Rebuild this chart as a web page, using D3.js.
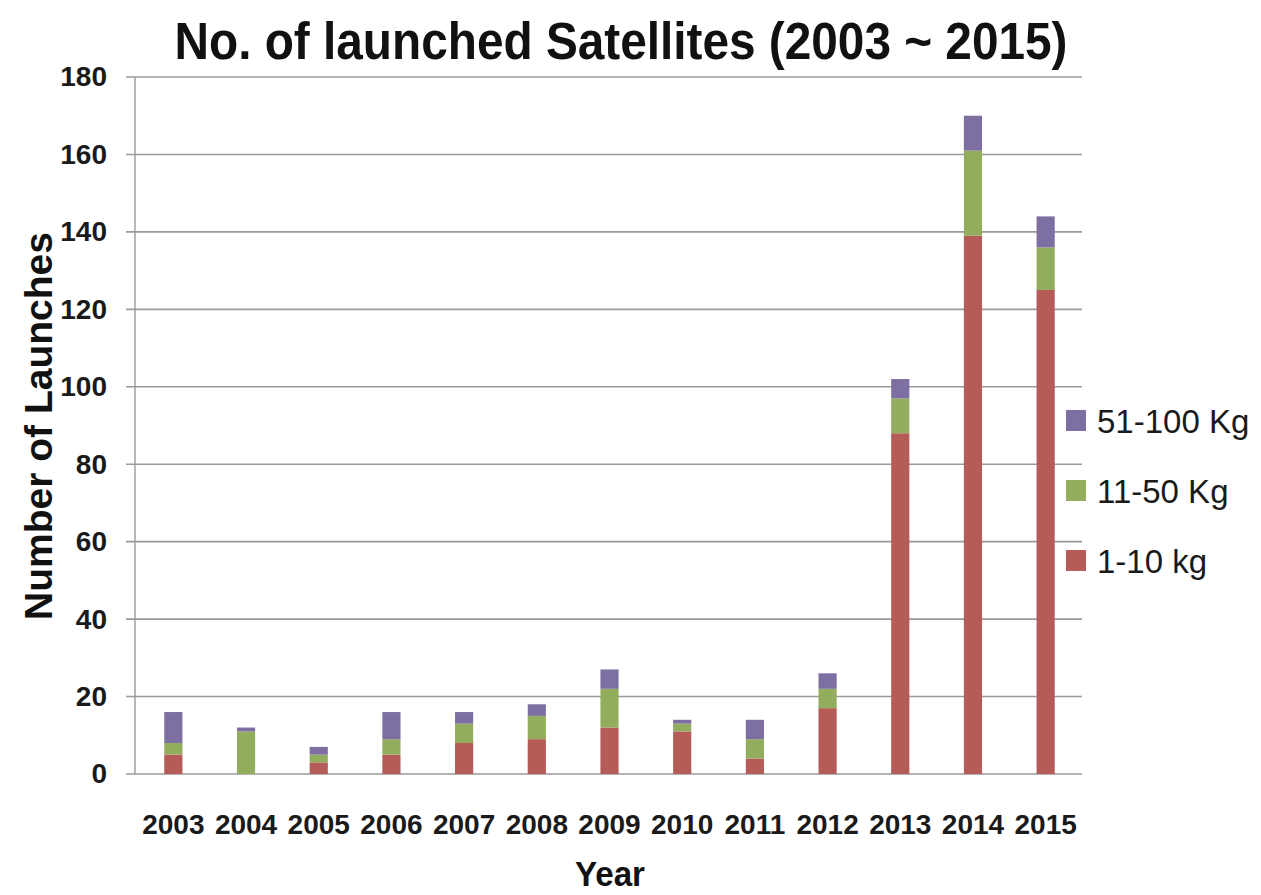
<!DOCTYPE html>
<html>
<head>
<meta charset="utf-8">
<script src="https://cdn.jsdelivr.net/npm/d3@7"></script>
<style>
  html, body { margin: 0; padding: 0; background: #fff; }
  svg { display: block; font-family: "Liberation Sans", Arial, sans-serif; }
</style>
</head>
<body>
<svg id="chart" width="1261" height="895"></svg>
<script>
// Launch counts per year, split by satellite mass class
const years = ["2003","2004","2005","2006","2007","2008","2009","2010","2011","2012","2013","2014","2015"];
const mass1to10   = [5, 0, 3, 5, 8, 9, 12, 11, 4, 17, 88, 139, 125];
const mass11to50  = [3, 11, 2, 4, 5, 6, 10, 2, 5, 5, 9, 22, 11];
const mass51to100 = [8, 1, 2, 7, 3, 3, 5, 1, 5, 4, 5, 9, 8];
const seriesNames = ["1-10 kg", "11-50 Kg", "51-100 Kg"];
const seriesColors = ["#b55b58", "#93ad5e", "#7e6fa3"];
const yTicks = [0, 20, 40, 60, 80, 100, 120, 140, 160, 180];

const svg = d3.select("#chart");

const rows = years.map((y, i) => ({
  year: y,
  "1-10 kg": mass1to10[i],
  "11-50 Kg": mass11to50[i],
  "51-100 Kg": mass51to100[i]
}));
const stacked = d3.stack().keys(seriesNames)(rows);

const x = d3.scaleBand().domain(years).range([137, 1082]).paddingInner(0.75).paddingOuter(0.375);
const y = d3.scaleLinear().domain([0, 180]).range([774, 77]);

// horizontal gridlines (with the short outer tick on the left)
svg.append("g")
  .selectAll("line")
  .data(yTicks)
  .join("line")
  .attr("x1", 126).attr("x2", 1082)
  .attr("y1", d => y(d)).attr("y2", d => y(d))
  .attr("stroke", "#9a9a9a").attr("stroke-width", 1.6);

// y axis line
svg.append("line")
  .attr("x1", 135).attr("x2", 135)
  .attr("y1", y(180)).attr("y2", y(0))
  .attr("stroke", "#9a9a9a").attr("stroke-width", 1.4);

// y tick labels
const yAxis = d3.axisLeft(y).tickValues(yTicks).tickSize(0).tickPadding(0);
const yg = svg.append("g").attr("transform", "translate(107,0)").call(yAxis);
yg.select(".domain").remove();
yg.selectAll("text")
  .attr("font-size", 28).attr("font-weight", "bold").attr("fill", "#1a1a1a")
  .attr("font-family", "'Liberation Sans', Arial, sans-serif");

// stacked bars
svg.append("g")
  .selectAll("g")
  .data(stacked)
  .join("g")
  .attr("fill", (d, i) => seriesColors[i])
  .selectAll("rect")
  .data(d => d)
  .join("rect")
  .attr("x", d => x(d.data.year))
  .attr("width", x.bandwidth())
  .attr("y", d => y(d[1]))
  .attr("height", d => y(d[0]) - y(d[1]));

// x tick labels
const xAxis = d3.axisBottom(x).tickSize(0).tickPadding(0);
const xg = svg.append("g").attr("transform", "translate(0,814)").call(xAxis);
xg.select(".domain").remove();
xg.selectAll("text")
  .attr("font-size", 28).attr("font-weight", "bold").attr("fill", "#1a1a1a")
  .attr("dy", "0.71em")
  .attr("font-family", "'Liberation Sans', Arial, sans-serif");

// title
svg.append("text")
  .attr("x", 621).attr("y", 59)
  .attr("text-anchor", "middle")
  .attr("font-size", 51).attr("font-weight", "bold").attr("fill", "#111")
  .attr("textLength", 893).attr("lengthAdjust", "spacingAndGlyphs")
  .text("No. of launched Satellites (2003 ~ 2015)");

// axis titles
svg.append("text")
  .attr("transform", "translate(52,426) rotate(-90)")
  .attr("text-anchor", "middle")
  .attr("font-size", 38).attr("font-weight", "bold").attr("fill", "#111")
  .attr("textLength", 388).attr("lengthAdjust", "spacingAndGlyphs")
  .text("Number of Launches");

svg.append("text")
  .attr("x", 610).attr("y", 886)
  .attr("text-anchor", "middle")
  .attr("font-size", 35).attr("font-weight", "bold").attr("fill", "#111")
  .attr("textLength", 70).attr("lengthAdjust", "spacingAndGlyphs")
  .text("Year");

// legend, heaviest class on top
const legendOrder = [2, 1, 0];
const lg = svg.append("g").selectAll("g")
  .data(legendOrder)
  .join("g")
  .attr("transform", (d, i) => `translate(1066,${421 + i * 70})`);
lg.append("rect")
  .attr("x", 0).attr("y", -11).attr("width", 20).attr("height", 21)
  .attr("fill", d => seriesColors[d]);
lg.append("text")
  .attr("x", 31).attr("y", 0).attr("dy", "0.36em")
  .attr("font-size", 33).attr("fill", "#1a1a1a")
  .text(d => seriesNames[d]);
</script>
</body>
</html>
